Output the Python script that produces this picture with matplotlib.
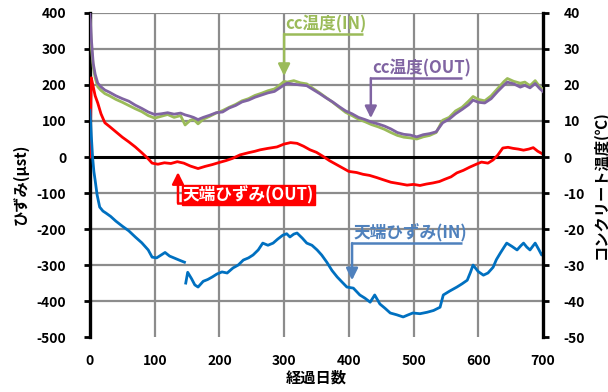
import numpy as np
import matplotlib
matplotlib.use('Agg')
import matplotlib.pyplot as plt

plt.rcParams['font.family'] = ['Noto Sans CJK JP', 'DejaVu Sans']

# コンクリート温度 (℃)
temp_days = [0, 2, 5, 8, 12, 17, 23, 30, 40, 50, 60, 70, 80, 90, 100, 110, 120, 130, 140, 147,
             155, 160, 167, 175, 185, 195, 205, 215, 225, 235, 245, 255, 265, 275, 285, 290,
             300, 305, 315, 325, 335, 345, 355, 365, 375, 385, 395, 405, 415, 425, 435, 445,
             455, 465, 475, 485, 495, 505, 515, 525, 535, 545, 555, 565, 575, 585, 592, 600,
             610, 620, 630, 640, 645, 655, 665, 672, 680, 688, 695, 700]
temp_out = [40, 33, 26, 23, 20.5, 19.5, 18.6, 18, 17, 16.2, 15.5, 14.4, 13.5, 12.5, 11.8, 12, 12.3, 11.9, 12.2, 11.7,
            11.3, 11, 10.4, 11, 11.6, 12.3, 12.5, 13.6, 14.3, 15.3, 15.8, 16.6, 17.2, 17.8, 18.2, 18.8,
            20, 20.5, 20.2, 20, 19.8, 18.7, 17.6, 16.4, 15.3, 14, 12.8, 12, 11, 10.4, 9.7, 9.2,
            8.6, 7.8, 6.8, 6.3, 6.1, 5.6, 6.2, 6.5, 7, 9.5, 10.5, 12, 13.2, 14.5, 15.8, 15.2,
            15, 16.2, 18.2, 20, 20.8, 20.3, 19.4, 19.9, 19.2, 20.4, 19, 18.2]
temp_in = [38, 31, 25, 22, 19.5, 18.5, 17.6, 17, 16, 15.2, 14.3, 13.4, 12.6, 11.5, 10.8, 11.3, 11.8, 11, 11.5, 8.9,
           10.2, 10.5, 9.2, 10.5, 11.3, 12.2, 12.9, 13.8, 14.6, 15.6, 16.2, 17.1, 17.7, 18.4, 18.9, 19.5,
           21, 20.8, 21.2, 20.6, 20.3, 19, 17.8, 16.5, 15.2, 13.8, 12.4, 11.5, 10.5, 9.8, 9, 8.4,
           7.7, 6.8, 6, 5.5, 5.3, 5, 5.6, 6, 6.8, 10.2, 11, 12.8, 13.8, 15.5, 16.8, 16,
           15.6, 17, 19, 21, 21.8, 21, 20.5, 20.8, 19.8, 21.2, 19.5, 18.8]

# 天端ひずみ(OUT) (μst)
out_days = [0, 2, 5, 8, 12, 17, 23, 30, 40, 50, 60, 70, 80, 90, 96, 105, 115, 125, 135, 145,
            155, 167, 178, 189, 200, 210, 220, 232, 245, 255, 263, 275, 289, 300, 310, 320, 330,
            340, 350, 360, 370, 380, 390, 400, 412, 422, 432, 443, 453, 465, 478, 490, 500, 510,
            520, 530, 540, 548, 558, 567, 577, 587, 597, 605, 615, 623, 630, 638, 646, 654, 662,
            670, 678, 685, 692, 700]
strain_out = [0, 220, 195, 170, 150, 120, 95, 85, 70, 55, 42, 28, 12, -5, -17, -20, -16, -18, -13, -17,
              -25, -32, -26, -21, -15, -10, -4, 6, 12, 16, 20, 24, 28, 36, 40, 38, 30,
              20, 13, 2, -10, -20, -30, -40, -43, -48, -51, -57, -63, -70, -74, -78, -76, -79,
              -75, -72, -68, -62, -55, -44, -37, -28, -20, -14, -17, -8, 5, 25, 27, 24, 22,
              19, 22, 26, 16, 8]

# 天端ひずみ(IN) (μst), 147日目で欠測
in_days = [0, 2, 4, 6, 8, 11, 15, 20, 25, 32, 40, 50, 60, 70, 80, 90, 96, 103, 110, 116,
           123, 131, 139, 146, 147, 148, 151, 157, 162, 167, 175, 182, 189, 196, 204, 212, 221,
           229, 237, 245, 252, 260, 267, 275, 283, 290, 298, 304, 309, 315, 320, 328, 335, 343,
           351, 358, 366, 374, 382, 390, 397, 407, 417, 425, 433, 440, 448, 456, 464, 474, 484,
           492, 499, 510, 521, 531, 541, 546, 556, 567, 575, 583, 588, 592, 600, 608, 615, 623,
           628, 634, 640, 644, 652, 660, 666, 670, 675, 680, 685, 688, 693, 698, 700]
strain_in = [130, 60, 0, -40, -65, -105, -139, -150, -156, -165, -178, -192, -205, -222, -238, -258, -278, -280, -272, -265,
             -275, -281, -287, -292, np.nan, -350, -320, -338, -355, -361, -345, -340, -333, -325, -319, -322, -308,
             -300, -286, -280, -272, -258, -239, -245, -239, -228, -217, -213, -222, -214, -211, -225, -239, -245,
             -258, -272, -292, -315, -333, -348, -361, -364, -383, -392, -403, -383, -408, -420, -433, -438, -444,
             -438, -433, -435, -431, -426, -417, -383, -372, -361, -352, -342, -320, -300, -318, -328, -322, -306,
             -285, -267, -250, -239, -248, -258, -246, -239, -250, -258, -246, -239, -255, -272, -268]

GREEN = '#9BBB59'
PURPLE = '#8064A2'
RED = '#FF0000'
BLUE = '#0070C0'
BLUE_TXT = '#4F81BD'
LABEL_SIZE = 12


def callout(ax, text, x_lead, y_line, y_tip, x_end, color, txt_color=None):
    # 引出線付きラベル: 下線 + 縦線 + 矢印
    txt_color = txt_color or color
    ax.plot([x_lead, x_end], [y_line, y_line], color=color, lw=1.8, zorder=6, solid_capstyle='butt')
    ax.annotate('', xy=(x_lead, y_tip), xytext=(x_lead, y_line),
                arrowprops=dict(arrowstyle='-|>,head_length=0.7,head_width=0.35',
                                color=color, lw=1.8, shrinkA=0, shrinkB=0), zorder=6)
    ax.text(x_lead + 2, y_line + 2, text, color=txt_color, fontsize=LABEL_SIZE, fontweight='bold',
            ha='left', va='bottom', zorder=6)


fig = plt.figure(figsize=(6.08, 3.92), dpi=100)
ax = fig.add_axes([0.148, 0.14, 0.745, 0.827])
ax2 = ax.twinx()

ax.set_xlim(0, 700)
ax.set_ylim(-500, 400)
ax2.set_ylim(-50, 40)

# グリッド
for x in range(100, 700, 100):
    ax.axvline(x, color='#8c8c8c', lw=1.6, zorder=0)
for y in range(-400, 500, 100):
    if y != 0:
        ax.axhline(y, color='#8c8c8c', lw=1.6, zorder=0)
ax.axhline(0, color='black', lw=2.2, zorder=1)

ax.plot(out_days, strain_out, color=RED, lw=2.0, zorder=3)
ax.plot(in_days, strain_in, color=BLUE, lw=2.0, zorder=3)
ax2.plot(temp_days, temp_in, color=GREEN, lw=2.0, zorder=3)
ax2.plot(temp_days, temp_out, color=PURPLE, lw=2.0, zorder=3)

for a in (ax, ax2):
    for s in ('top', 'bottom'):
        a.spines[s].set_visible(False)
ax.spines['left'].set_linewidth(2.4)
ax.spines['right'].set_visible(False)
ax2.spines['left'].set_visible(False)
ax2.spines['right'].set_linewidth(2.4)

tick_font = dict(fontsize=10, fontweight='bold')
ax.set_xticks(range(0, 800, 100))
ax.set_xticklabels([str(v) for v in range(0, 800, 100)], **tick_font)
ax.set_yticks(range(-500, 500, 100))
ax.set_yticklabels([str(v) for v in range(-500, 500, 100)], **tick_font)
ax2.set_yticks(range(-50, 50, 10))
ax2.set_yticklabels([str(v) for v in range(-50, 50, 10)], **tick_font)
ax.tick_params(axis='x', length=0, pad=12)
ax.tick_params(axis='y', direction='out', length=4, width=2, pad=13)
ax2.tick_params(axis='y', direction='out', length=4, width=2, pad=11)

ax.set_xlabel('経過日数', fontsize=11, fontweight='bold')
ax.set_ylabel('ひずみ(μst)', fontsize=11, fontweight='bold')
ax2.set_ylabel('コンクリート温度(℃)', fontsize=11, fontweight='bold', rotation=90)
ax.xaxis.set_label_coords(0.5, -0.1)
ax.yaxis.set_label_coords(-0.135, 0.47)
ax2.yaxis.set_label_coords(1.11, 0.47)

# ラベル
callout(ax, 'cc温度(IN)', 300, 342, 225, 422, GREEN)
callout(ax, 'cc温度(OUT)', 434, 219, 108, 575, PURPLE)
callout(ax, '天端ひずみ(IN)', 405, -239, -342, 575, BLUE_TXT)

ax.plot([136, 142], [-128, -128], color=RED, lw=1.8, zorder=6)
ax.annotate('', xy=(136, -42), xytext=(136, -128),
            arrowprops=dict(arrowstyle='-|>,head_length=0.7,head_width=0.35',
                            color=RED, lw=1.8, shrinkA=0, shrinkB=0), zorder=6)
ax.text(143, -106, '天端ひずみ(OUT)', color='white', fontsize=LABEL_SIZE, fontweight='bold',
        ha='left', va='center', zorder=7,
        bbox=dict(boxstyle='square,pad=0.05', facecolor=RED, edgecolor=RED))

fig.savefig('out.png', dpi=100)
